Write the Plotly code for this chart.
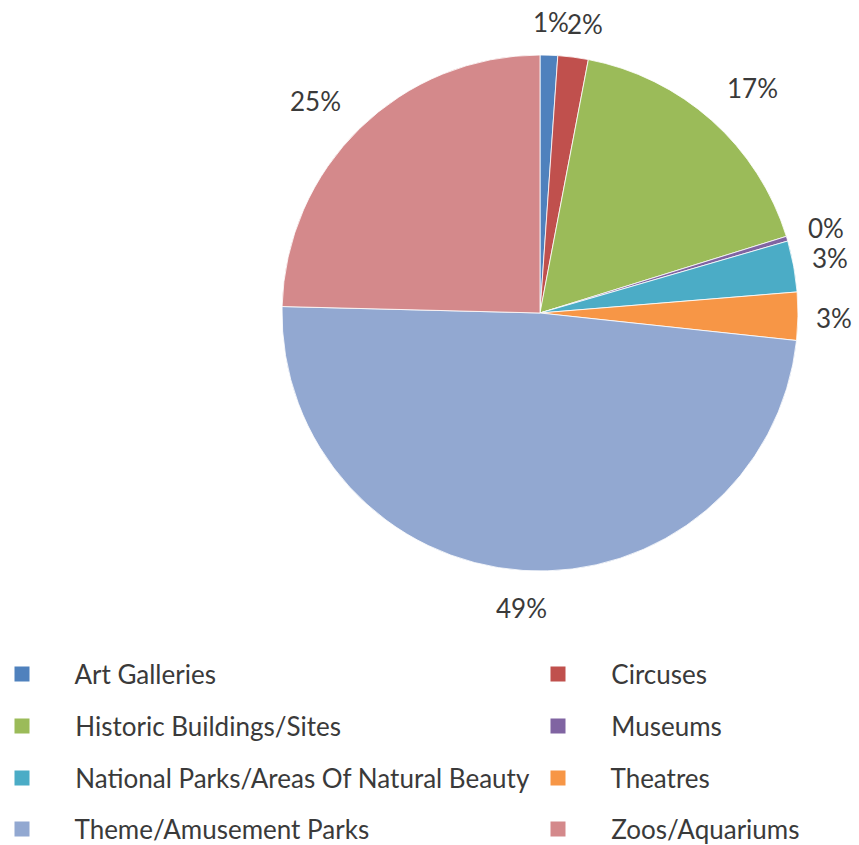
import numpy as np
import plotly.graph_objects as go

categories = ["Art Galleries", "Circuses", "Historic Buildings/Sites", "Museums",
              "National Parks/Areas Of Natural Beauty", "Theatres",
              "Theme/Amusement Parks", "Zoos/Aquariums"]
values = [1.1, 1.9, 17.2, 0.3, 3.2, 3.0, 48.7, 24.6]
colors = ["#4F81BD", "#C0504D", "#9BBB59", "#8064A2", "#4BACC6", "#F79646",
          "#92A8D1", "#D4898B"]

W, H = 859, 845
CX, CY, R = 540, 313, 258          # pie centre / radius in pixels
FONT = "Lato"
TXT = "#3A3A3A"

fig = go.Figure()
fig.add_trace(go.Pie(
    labels=categories, values=values, sort=False, direction="clockwise",
    rotation=0, marker=dict(colors=colors, line=dict(color="white", width=0.8)),
    textinfo="none", showlegend=False, hoverinfo="label+percent",
    domain=dict(x=[(CX - R) / W, (CX + R) / W], y=[1 - (CY + R) / H, 1 - (CY - R) / H]),
))

# percentage labels outside each slice, placed along the slice's mid-angle
vals = np.array(values, dtype=float)
frac = vals / vals.sum()
mid = (np.cumsum(frac) - frac / 2) * 2 * np.pi      # clockwise from 12 o'clock
nudge = {0: (1, 5), 1: (9, 5), 3: (0, -5), 4: (-3, -5), 5: (-4, 2), 7: (-3, 5)}
gap = 20
for i, (f, a) in enumerate(zip(frac, mid)):
    sx, sy = np.sin(a), -np.cos(a)                    # screen direction (y down)
    dx, dy = nudge.get(i, (0, 0))
    px = CX + (R + gap) * sx + dx
    py = CY + (R + gap) * sy + dy
    xa = "left" if sx > 0.3 else ("right" if sx < -0.3 else "center")
    ya = "bottom" if sy < -0.3 else ("top" if sy > 0.3 else "middle")
    fig.add_annotation(x=px / W, y=1 - py / H, xref="paper", yref="paper",
                       text=f"{round(f * 100):.0f}%", showarrow=False, xanchor=xa, yanchor=ya,
                       font=dict(family=FONT, size=26, color=TXT))

# legend: two columns, four rows; one small legend per entry
col_x = [0, 536]
rows_y = [674, 726, 778, 829]
legends = {}
for i, (name, col) in enumerate(zip(categories, colors)):
    key = "legend" if i == 0 else f"legend{i + 1}"
    fig.add_trace(go.Scatter(
        x=[None], y=[None], mode="markers", name="\u00a0" * 5 + name,
        marker=dict(symbol="square", size=15, color=col),
        legend=key, showlegend=True, hoverinfo="skip",
    ))
    legends[key] = dict(orientation="h", xref="container", yref="container",
                        x=(col_x[i % 2] + 2) / W, xanchor="left",
                        y=1 - rows_y[i // 2] / H, yanchor="middle",
                        font=dict(family=FONT, size=26, color=TXT),
                        bgcolor="rgba(0,0,0,0)", itemclick=False, itemdoubleclick=False)

fig.update_layout(
    width=W, height=H, margin=dict(l=0, r=0, t=0, b=0, autoexpand=False),
    paper_bgcolor="white", plot_bgcolor="white",
    xaxis=dict(visible=False), yaxis=dict(visible=False),
    **legends,
)
fig.write_html("out.html")
